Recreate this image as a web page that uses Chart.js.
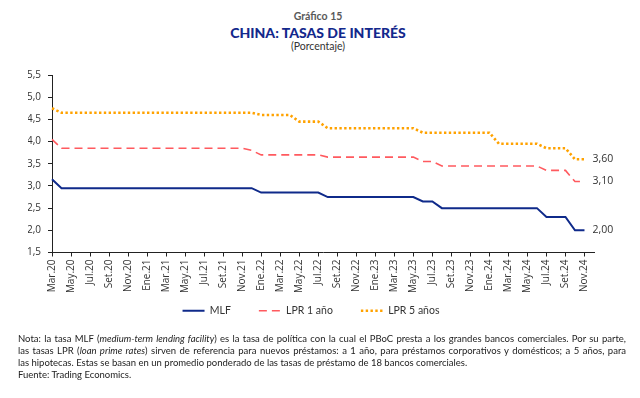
<!DOCTYPE html>
<html>
<head>
<meta charset="utf-8">
<script src="https://cdn.jsdelivr.net/npm/chart.js@4"></script>
<style>
  body { margin: 0; background: #fff; }
  #wrap { position: relative; width: 640px; height: 398px; overflow: hidden; }
  .t { position: absolute; left: 0; width: 636px; text-align: center; font-family: Lato, sans-serif; }
  #chartBox { position: absolute; left: 0; top: 0; width: 640px; height: 349px; }
  #note { position: absolute; left: 18px; top: 333px; width: 608px; font-family: Lato, sans-serif; font-size: 9.5px; color: #222; line-height: 12px; }
  #note .j { text-align: justify; text-align-last: justify; white-space: nowrap; }
</style>
</head>
<body>
<div id="wrap">
  <div class="t" style="top:10px;font-size:10.5px;font-weight:bold;color:#595959;">Gráfico 15</div>
  <div class="t" style="top:24px;font-size:14px;font-weight:900;color:#13288c;">CHINA: TASAS DE INTERÉS</div>
  <div class="t" style="top:40px;font-size:10.5px;color:#333;">(Porcentaje)</div>
  <div id="chartBox"><canvas id="tasasChart"></canvas></div>
  <div id="note">
    <div class="j">Nota: la tasa MLF (<i>medium-term lending facility</i>) es la tasa de política con la cual el PBoC presta a los grandes bancos comerciales. Por su parte,</div>
    <div class="j">las tasas LPR (<i>loan prime rates</i>) sirven de referencia para nuevos préstamos: a 1 año, para préstamos corporativos y domésticos; a 5 años, para</div>
    <div>las hipotecas. Estas se basan en un promedio ponderado de las tasas de préstamo de 18 bancos comerciales.</div>
    <div>Fuente: Trading Economics.</div>
  </div>
</div>
<script>
// meses (Mar.20 - Dic.24), etiqueta cada dos meses
const months = ['Mar.20','Abr.20','May.20','Jun.20','Jul.20','Ago.20','Set.20','Oct.20','Nov.20','Dic.20',
  'Ene.21','Feb.21','Mar.21','Abr.21','May.21','Jun.21','Jul.21','Ago.21','Set.21','Oct.21','Nov.21','Dic.21',
  'Ene.22','Feb.22','Mar.22','Abr.22','May.22','Jun.22','Jul.22','Ago.22','Set.22','Oct.22','Nov.22','Dic.22',
  'Ene.23','Feb.23','Mar.23','Abr.23','May.23','Jun.23','Jul.23','Ago.23','Set.23','Oct.23','Nov.23','Dic.23',
  'Ene.24','Feb.24','Mar.24','Abr.24','May.24','Jun.24','Jul.24','Ago.24','Set.24','Oct.24','Nov.24','Dic.24'];

const mlf = [3.15,
  2.95,2.95,2.95,2.95,2.95,2.95,2.95,2.95,2.95,2.95,2.95,2.95,2.95,2.95,2.95,2.95,2.95,2.95,2.95,2.95,2.95,
  2.85,2.85,2.85,2.85,2.85,2.85,2.85,
  2.75,2.75,2.75,2.75,2.75,2.75,2.75,2.75,2.75,2.75,
  2.65,2.65,
  2.50,2.50,2.50,2.50,2.50,2.50,2.50,2.50,2.50,2.50,2.50,
  2.30,2.30,2.30,
  2.00,2.00];

const lpr1 = [4.05,
  3.85,3.85,3.85,3.85,3.85,3.85,3.85,3.85,3.85,3.85,3.85,3.85,3.85,3.85,3.85,3.85,3.85,3.85,3.85,3.85,
  3.80,
  3.70,3.70,3.70,3.70,3.70,3.70,3.70,
  3.65,3.65,3.65,3.65,3.65,3.65,3.65,3.65,3.65,3.65,
  3.55,3.55,
  3.45,3.45,3.45,3.45,3.45,3.45,3.45,3.45,3.45,3.45,3.45,
  3.35,3.35,3.35,
  3.10,3.10];

const lpr5 = [4.75,
  4.65,4.65,4.65,4.65,4.65,4.65,4.65,4.65,4.65,4.65,4.65,4.65,4.65,4.65,4.65,4.65,4.65,4.65,4.65,4.65,4.65,
  4.60,4.60,4.60,4.60,
  4.45,4.45,4.45,
  4.30,4.30,4.30,4.30,4.30,4.30,4.30,4.30,4.30,4.30,
  4.20,4.20,4.20,4.20,4.20,4.20,4.20,4.20,
  3.95,3.95,3.95,3.95,3.95,
  3.85,3.85,3.85,
  3.60,3.60];

const fmt = (v, d) => v.toFixed(d).replace('.', ',');

// etiqueta del ultimo valor a la derecha de cada linea
const endLabels = {
  id: 'endLabels',
  afterDatasetsDraw(chart) {
    const ctx = chart.ctx;
    ctx.save();
    ctx.font = '10.5px "Open Sans", sans-serif';
    ctx.fillStyle = '#333';
    ctx.textBaseline = 'middle';
    chart.data.datasets.forEach((ds, i) => {
      const pts = chart.getDatasetMeta(i).data;
      const last = pts[ds.data.length - 1];
      ctx.fillText(fmt(ds.data[ds.data.length - 1], 2), last.x + 8, last.y);
    });
    ctx.restore();
  }
};

// sube la leyenda para que quede justo debajo de las etiquetas del eje x
const liftLegend = {
  id: 'liftLegend',
  afterLayout(chart) {
    chart.legend.top -= 23;
    chart.legend.bottom -= 23;
  }
};

const ctx = document.getElementById('tasasChart').getContext('2d');
new Chart(ctx, {
  type: 'line',
  data: {
    labels: months,
    datasets: [
      { label: 'MLF', data: mlf, borderColor: '#0f2a8a', borderWidth: 2 },
      { label: 'LPR 1 año', data: lpr1, borderColor: '#ff5a5f', borderWidth: 1.6, borderDash: [8, 5] },
      { label: 'LPR 5 años', data: lpr5, borderColor: '#ffa200', borderWidth: 2.6, borderDash: [2.4, 2.4] }
    ]
  },
  options: {
    responsive: true,
    maintainAspectRatio: false,
    animation: false,
    elements: { point: { radius: 0 }, line: { tension: 0 } },
    layout: { padding: { top: 75, left: 28, right: 46, bottom: 0 } },
    plugins: {
      tooltip: { enabled: false },
      legend: {
        position: 'bottom',
        labels: {
          usePointStyle: true,
          pointStyle: 'line',
          pointStyleWidth: 22,
          padding: 28,
          color: '#333',
          font: { family: 'Lato, sans-serif', size: 10.5 },
          generateLabels: (chart) => Chart.defaults.plugins.legend.labels.generateLabels(chart).map((it, i) => {
            const ds = chart.data.datasets[i];
            it.lineDash = ds.borderDash || [];
            it.lineWidth = ds.borderWidth;
            it.strokeStyle = ds.borderColor;
            it.pointStyle = 'line';
            return it;
          })
        }
      }
    },
    scales: {
      x: {
        offset: false,
        border: { color: '#222', width: 1 },
        grid: {
          drawOnChartArea: false,
          tickLength: 4,
          tickColor: (c) => (c.index % 2 === 0 && c.index < 57) ? '#222' : 'rgba(0,0,0,0)'
        },
        ticks: {
          autoSkip: false,
          maxRotation: 90,
          minRotation: 90,
          padding: 3,
          color: '#333',
          font: { family: '"Open Sans", sans-serif', size: 10 },
          callback: (v, i) => (i % 2 === 0 && i < 57) ? months[i] : ''
        },
        afterFit: (s) => { s.height = 48; }
      },
      y: {
        min: 1.5,
        max: 5.5,
        border: { color: '#222', width: 1 },
        grid: { drawOnChartArea: false, tickLength: 4, tickColor: '#222' },
        ticks: {
          stepSize: 0.5,
          padding: 7,
          color: '#333',
          font: { family: '"Open Sans", sans-serif', size: 10 },
          callback: (v) => fmt(v, 1)
        },
        afterFit: (s) => { s.width = 24; }
      }
    }
  },
  plugins: [endLabels, liftLegend]
});
</script>
</body>
</html>
